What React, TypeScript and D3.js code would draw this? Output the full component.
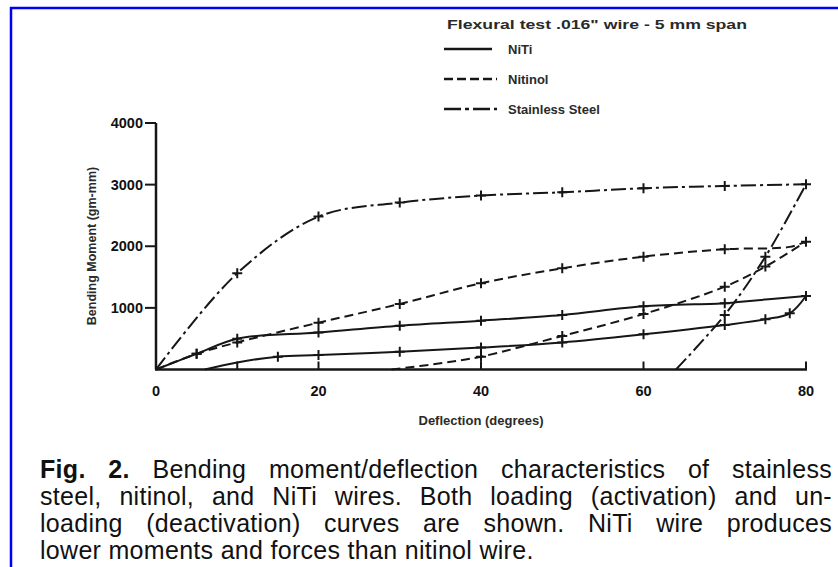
import React, { useLayoutEffect, useRef } from "react";
import * as d3 from "d3";

// ---- data ----
const xTicks = [10, 20, 40, 60, 80];
const xTickLabels = [0, 20, 40, 60, 80];
const yTicks = [1000, 2000, 3000, 4000];

// NiTi (solid)
const nitiLoadX = [0, 5, 10, 20, 30, 40, 50, 60, 70, 72, 80];
const nitiLoadY = [0, 255, 500, 600, 711, 793, 885, 1025, 1074, 1100, 1193];
const nitiLoadM = [0, 1, 1, 1, 1, 1, 1, 1, 1, 0, 1];
const nitiUnloadX = [6, 10, 15, 20, 30, 40, 50, 60, 70, 75, 78, 80];
const nitiUnloadY = [0, 115, 208, 235, 289, 355, 440, 571, 722, 815, 912, 1193];
const nitiUnloadM = [0, 0, 1, 1, 1, 1, 1, 1, 1, 1, 1, 0];

// Nitinol (dashed)
const nitinolLoadX = [0, 5, 10, 20, 30, 40, 50, 60, 70, 78, 80];
const nitinolLoadY = [0, 255, 440, 760, 1063, 1399, 1643, 1831, 1951, 1990, 2075];
const nitinolLoadM = [0, 1, 1, 1, 1, 1, 1, 1, 1, 0, 1];
const nitinolUnloadX = [29, 35, 40, 50, 60, 70, 75, 80];
const nitinolUnloadY = [0, 100, 208, 545, 900, 1344, 1670, 2075];
const nitinolUnloadM = [0, 0, 1, 1, 1, 1, 1, 0];

// Stainless steel (dash-dot)
const ssLoadX = [0, 10, 20, 30, 40, 50, 60, 70, 80];
const ssLoadY = [0, 1562, 2481, 2708, 2822, 2876, 2941, 2979, 3005];
const ssLoadM = [0, 1, 1, 1, 1, 1, 1, 1, 1];
const ssUnloadX = [64, 70, 75, 80];
const ssUnloadY = [0, 885, 1831, 3005];
const ssUnloadM = [0, 1, 1, 0];

const legendTitle = "Flexural test .016\" wire - 5 mm span";
const legendNames = ["NiTi", "Nitinol", "Stainless Steel"];

const captionBold = "Fig. 2.";
const captionLines = [
  " Bending moment/deflection characteristics of stainless",
  "steel, nitinol, and NiTi wires. Both loading (activation) and un-",
  "loading (deactivation) curves are shown. NiTi wire produces",
  "lower moments and forces than nitinol wire.",
];

const DASH = { solid: undefined, dashed: "9,5", dashdot: "15,4,3,4" } as const;

type S = { xs: number[]; ys: number[]; ms: number[]; dash?: string };

const series: S[] = [
  { xs: nitiLoadX, ys: nitiLoadY, ms: nitiLoadM, dash: DASH.solid },
  { xs: nitiUnloadX, ys: nitiUnloadY, ms: nitiUnloadM, dash: DASH.solid },
  { xs: nitinolLoadX, ys: nitinolLoadY, ms: nitinolLoadM, dash: DASH.dashed },
  { xs: nitinolUnloadX, ys: nitinolUnloadY, ms: nitinolUnloadM, dash: DASH.dashed },
  { xs: ssLoadX, ys: ssLoadY, ms: ssLoadM, dash: DASH.dashdot },
  { xs: ssUnloadX, ys: ssUnloadY, ms: ssUnloadM, dash: DASH.dashdot },
];

export default function App() {
  const W = 838, H = 567;
  const capRefs = useRef<(SVGTextElement | null)[]>([]);
  const CAP_W = 792;

  useLayoutEffect(() => {
    capRefs.current.forEach((el, i) => {
      if (!el || i > 2) return;
      el.setAttribute("word-spacing", "0");
      const len = el.getComputedTextLength();
      const txt = (i === 0 ? captionBold : "") + captionLines[i];
      const spaces = (txt.match(/ /g) || []).length;
      if (spaces > 0) el.setAttribute("word-spacing", String(Math.max(0, (CAP_W - len) / spaces)));
    });
  }, []);

  const x = d3.scaleLinear().domain([0, 80]).range([156, 806]);
  const y = d3.scaleLinear().domain([0, 4000]).range([369.5, 123]);
  const line = d3
    .line<[number, number]>()
    .x((d) => x(d[0]))
    .y((d) => y(d[1]))
    .curve(d3.curveCatmullRom.alpha(0.5));
  const ink = "#161616";
  const font = "'Liberation Sans', Arial, sans-serif";

  return (
    <svg
      width={W}
      height={H}
      style={{ position: "absolute", left: 0, top: 0, background: "#fff" }}
      fontFamily={font}
    >
      {/* blue frame */}
      <path d={`M11,${H + 5} L11,8 L${W + 5},8`} fill="none" stroke="#0000f0" strokeWidth={2.5} />

      {/* legend */}
      <text x={447} y={29} fontSize={13.5} fontWeight="bold" fill="#2a2a2a" textLength={300} lengthAdjust="spacingAndGlyphs">
        {legendTitle}
      </text>
      {legendNames.map((n, i) => {
        const ly = 49 + i * 30;
        const dash = i === 0 ? DASH.solid : i === 1 ? "9,4" : "17,4,4,4";
        return (
          <g key={n}>
            <line x1={444} x2={i === 0 ? 492 : 497} y1={ly} y2={ly} stroke={ink} strokeWidth={2.5} strokeDasharray={dash} />
            <text x={508} y={ly + 4.5} fontSize={13} fontWeight="bold" fill="#2a2a2a">
              {n}
            </text>
          </g>
        );
      })}

      {/* axes */}
      <line x1={x(0)} x2={x(0)} y1={y(4000)} y2={y(0)} stroke={ink} strokeWidth={2.5} />
      <line x1={x(0) - 1} x2={x(80) + 1} y1={y(0)} y2={y(0)} stroke={ink} strokeWidth={2.5} />
      {yTicks.map((t) => (
        <g key={t}>
          <line x1={x(0) - 11} x2={x(0)} y1={y(t)} y2={y(t)} stroke={ink} strokeWidth={2} />
          <text x={143} y={y(t) + 5} fontSize={14.5} fontWeight="bold" textAnchor="end" fill="#111">
            {t}
          </text>
        </g>
      ))}
      {xTicks.map((t) => (
        <line key={t} x1={x(t)} x2={x(t)} y1={y(0)} y2={y(0) - 8} stroke={ink} strokeWidth={2} />
      ))}
      {xTickLabels.map((t) => (
        <text key={t} x={x(t)} y={396} fontSize={14.5} fontWeight="bold" textAnchor="middle" fill="#111">
          {t}
        </text>
      ))}
      <text x={481} y={425} fontSize={13} fontWeight="bold" textAnchor="middle" fill="#2a2a2a">
        Deflection (degrees)
      </text>
      <text
        transform={`translate(96,246) rotate(-90)`}
        fontSize={12.5}
        fontWeight="bold"
        textAnchor="middle"
        fill="#2a2a2a"
      >
        Bending Moment (gm-mm)
      </text>

      {/* curves */}
      {series.map((s, i) => {
        const pts = s.xs.map((v, j) => [v, s.ys[j]] as [number, number]);
        return (
          <g key={i}>
            <path d={line(pts) || ""} fill="none" stroke={ink} strokeWidth={2} strokeDasharray={s.dash} />
            {pts
              .filter((_, j) => s.ms[j])
              .map((p, j) => (
                <path
                  key={j}
                  d={`M${x(p[0]) - 5},${y(p[1])}h10M${x(p[0])},${y(p[1]) - 5}v10`}
                  stroke={ink}
                  strokeWidth={2}
                />
              ))}
          </g>
        );
      })}

      {/* caption */}
      {captionLines.map((l, i) => (
        <text
          key={i}
          ref={(el) => {
            capRefs.current[i] = el;
          }}
          x={40}
          y={478 + i * 27}
          fontSize={25}
          letterSpacing={0.3}
          fill="#111"
          style={{ whiteSpace: "pre" }}
        >
          {i === 0 ? <tspan fontWeight="bold">{captionBold}</tspan> : null}
          {l}
        </text>
      ))}
    </svg>
  );
}
